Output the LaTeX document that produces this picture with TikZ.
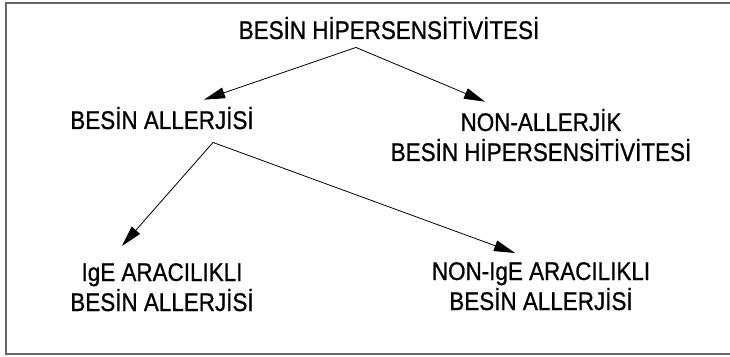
\documentclass[tikz,border=0pt]{standalone}
\usepackage{fontspec}
\setmainfont{Liberation Sans}[FakeStretch=0.88, FakeBold=0.8]
\usepackage{tikz}
\usetikzlibrary{arrows.meta,calc}

\begin{document}
\begin{tikzpicture}[x=1pt, y=1pt,
    txt/.style={inner sep=0pt, anchor=base, align=center, font=\fontsize{25.5}{30}\selectfont},
    arr/.style={-{Triangle[length=21pt, width=11pt]}, line width=0.8pt},
    frame/.style={line width=1.6pt, draw=black!60}]
    \useasboundingbox (0,0) rectangle (730,356);
    % open frame
    \draw[frame] (740,353) -- (6,353) -- (6,2) -- (740,2);

    % top level
    \node[txt] (hyper) at (389,317) {BESİN HİPERSENSİTİVİTESİ};

    % second level (base = last line)
    \node[txt] (allergy) at (162,227) {BESİN ALLERJİSİ};
    \node[txt] (nonallergy) at (541,195) {NON-ALLERJİK\\BESİN HİPERSENSİTİVİTESİ};

    % third level
    \node[txt] (ige) at (162,45) {IgE ARACILIKLI\\BESİN ALLERJİSİ};
    \node[txt] (nonige) at (541,46) {NON-IgE ARACILIKLI\\BESİN ALLERJİSİ};

    % arrows
    \draw[arr] ([xshift=-33pt, yshift=-8pt]hyper.south) -- ([xshift=42pt, yshift=7pt]allergy.north);
    \draw[arr] ([xshift=-33pt, yshift=-8pt]hyper.south) -- ([xshift=-56pt, yshift=7pt]nonallergy.north);
    \draw[arr] ([xshift=51pt, yshift=-13pt]allergy.south) -- ([xshift=-40pt, yshift=17pt]ige.north);
    \draw[arr] ([xshift=51pt, yshift=-13pt]allergy.south) -- ([xshift=-26pt, yshift=9pt]nonige.north);
\end{tikzpicture}
\end{document}
